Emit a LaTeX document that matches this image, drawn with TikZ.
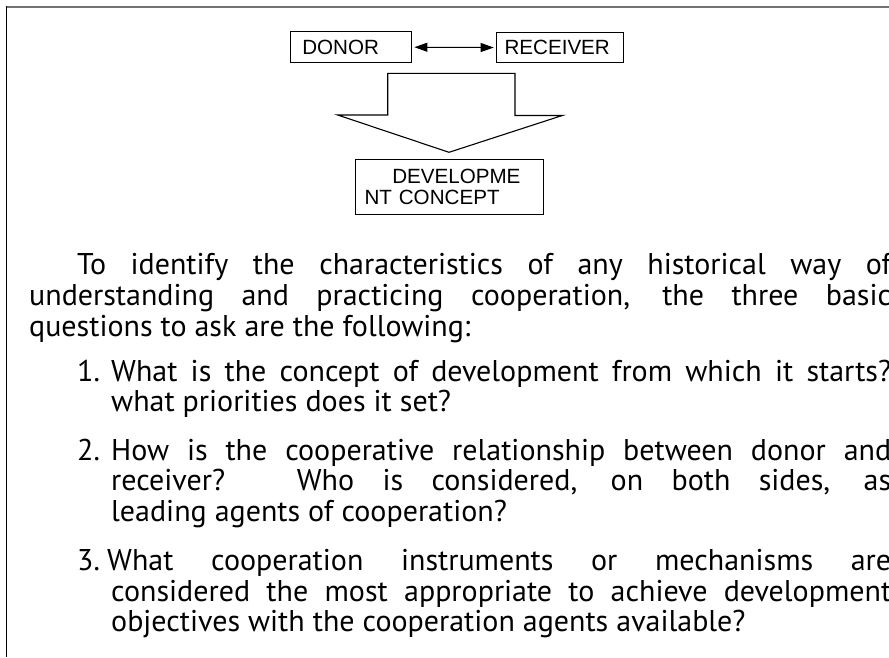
\documentclass[tikz,border=0pt]{standalone}
\usepackage{fontspec}
\setmainfont{PT Sans}
\newfontfamily\labelfont{Liberation Sans}
\usetikzlibrary{arrows.meta}

\begin{document}
\begin{tikzpicture}[x=1pt,y=-1pt,
  frame/.style={line width=1.4pt},
  boxnode/.style={draw, line width=1.1pt, inner ysep=0pt, align=left,
    font=\labelfont\fontsize{20.6}{21}\selectfont},
  link/.style={line width=1pt, {Triangle[length=13pt,width=9pt]}-{Triangle[length=13pt,width=9pt]}},
  bigarrow/.style={draw, line width=1.1pt, fill=white, line join=miter},
  body/.style={inner sep=0pt, anchor=base west, font=\fontsize{30}{30}\selectfont},
]
\useasboundingbox (0,0) rectangle (889,657);
\clip (0,0) rectangle (889,657);

% page frame (top rule and left rule)
\coordinate (tl) at (6,6.5);
\coordinate (tr) at (889,6.5);
\coordinate (bl) at (6.5,657);
\draw[frame, color=black!55, line width=2pt] (tl) -- (tr);
\draw[frame] (6.5,6) -- (bl);

% donor / receiver boxes
\node[boxnode, anchor=north west, inner xsep=11.7pt, text width=97.9pt,
      minimum height=31.3pt] (donor) at (290,31) {DONOR};
\node[boxnode, anchor=north west, inner xsep=8.3pt, text width=111pt,
      minimum height=30.6pt] (receiver) at (495.7,31.7) {RECEIVER};
\draw[link] ([xshift=2pt]donor.east) -- ([xshift=-2pt]receiver.west);

% block arrow pointing down
\draw[bigarrow] (387.7,73.3) -- (515,73.3) -- (515,115.5) -- (562.3,115.5)
  -- (449,152.3) -- (337.7,115) -- (387.7,115) -- cycle;

% development concept box
\node[boxnode, anchor=north west, inner xsep=8.7pt, text width=170.6pt,
      minimum height=55.6pt] (concept) at (355.3,158.7)
  {\hspace*{27.7pt}DEVELOPME\\NT CONCEPT};

% introductory paragraph
\node[body] (p1) at (77,274) {\makebox[814pt][s]{To identify the characteristics of any historical way of}};
\node[body] (p2) at (29,305) {\makebox[862pt][s]{understanding and practicing cooperation, the three basic}};
\node[body] (p3) at (29,336) {questions to ask are the following:};

% question 1
\node[body] (n1) at (77,381) {1.};
\node[body] (q1a) at (111,381) {\makebox[780pt][s]{What is the concept of development from which it starts?}};
\node[body] (q1b) at (111,411) {what priorities does it set?};

% question 2
\node[body] (n2) at (77,460) {2.};
\node[body] (q2a) at (111,460) {\makebox[780pt][s]{How is the cooperative relationship between donor and}};
\node[body] (q2b) at (111,490) {\makebox[780pt][s]{receiver? Who is considered, on both sides, as}};
\node[body] (q2c) at (111,521) {leading agents of cooperation?};

% question 3
\node[body] (n3) at (77,570) {3.};
\node[body] (q3a) at (107,570) {\makebox[784pt][s]{What cooperation instruments or mechanisms are}};
\node[body] (q3b) at (111,601) {\makebox[780pt][s]{considered the most appropriate to achieve development}};
\node[body] (q3c) at (111,631) {objectives with the cooperation agents available?};
\end{tikzpicture}
\end{document}
